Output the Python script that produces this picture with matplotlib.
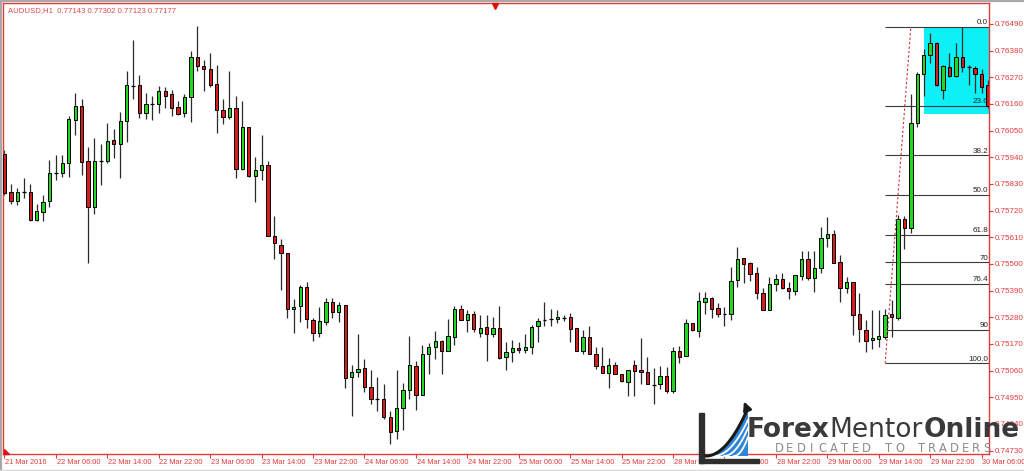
import matplotlib.pyplot as plt
import numpy as np
from matplotlib.patches import Rectangle, Polygon
from matplotlib.transforms import blended_transform_factory

# AUDUSD H1 candles (21 Mar - 30 Mar 2016)
opens = [0.75954, 0.75798, 0.75759, 0.75797, 0.75796, 0.75682, 0.75715, 0.75759, 0.75877, 0.75877,
         0.75915, 0.76093, 0.76152, 0.75924, 0.75734, 0.75926, 0.75925, 0.76010, 0.75995, 0.76091,
         0.76235, 0.76237, 0.76124, 0.76159, 0.76160, 0.76214, 0.76200, 0.76149, 0.76124, 0.76188,
         0.76353, 0.76317, 0.76303, 0.76241, 0.76135, 0.76108, 0.76145, 0.75891, 0.76064, 0.75864,
         0.75887, 0.75908, 0.75617, 0.75580, 0.75547, 0.75313, 0.75326, 0.75404, 0.75269, 0.75214,
         0.75261, 0.75345, 0.75301, 0.75330, 0.75033, 0.75055, 0.75071, 0.74993, 0.74942, 0.74942,
         0.74870, 0.74810, 0.74905, 0.74979, 0.75079, 0.74961, 0.75130, 0.75158, 0.75182, 0.75140,
         0.75200, 0.75314, 0.75270, 0.75295, 0.75217, 0.75239, 0.75210, 0.75236, 0.75118, 0.75136,
         0.75155, 0.75144, 0.75156, 0.75245, 0.75268, 0.75273, 0.75272, 0.75279, 0.75280, 0.75236,
         0.75141, 0.75199, 0.75129, 0.75080, 0.75049, 0.75082, 0.75045, 0.75014, 0.75082, 0.75063,
         0.75056, 0.75002, 0.75004, 0.75038, 0.74975, 0.75142, 0.75121, 0.75255, 0.75224, 0.75343,
         0.75360, 0.75319, 0.75294, 0.75294, 0.75433, 0.75526, 0.75503, 0.75462, 0.75380, 0.75309,
         0.75416, 0.75439, 0.75400, 0.75389, 0.75451, 0.75519, 0.75444, 0.75482, 0.75606, 0.75625,
         0.75507, 0.75402, 0.75426, 0.75293, 0.75229, 0.75188, 0.75191, 0.75199, 0.75293, 0.75276,
         0.75686, 0.75647, 0.76080, 0.76284, 0.76362, 0.76413, 0.76218, 0.76313, 0.76276, 0.76353,
         0.76314, 0.76310, 0.76284, 0.76238]
highs = [0.75970, 0.75830, 0.75812, 0.75856, 0.75829, 0.75748, 0.75785, 0.75929, 0.75948, 0.75948,
         0.76112, 0.76204, 0.76181, 0.75981, 0.76021, 0.75994, 0.76080, 0.76057, 0.76126, 0.76297,
         0.76424, 0.76281, 0.76204, 0.76192, 0.76235, 0.76229, 0.76218, 0.76171, 0.76201, 0.76380,
         0.76483, 0.76340, 0.76369, 0.76321, 0.76181, 0.76296, 0.76194, 0.76172, 0.76064, 0.75940,
         0.76032, 0.75925, 0.75698, 0.75602, 0.75547, 0.75356, 0.75413, 0.75427, 0.75276, 0.75321,
         0.75359, 0.75361, 0.75345, 0.75330, 0.75083, 0.75211, 0.75107, 0.75063, 0.75035, 0.75006,
         0.74894, 0.75063, 0.75008, 0.75203, 0.75099, 0.75166, 0.75175, 0.75222, 0.75187, 0.75272,
         0.75326, 0.75332, 0.75309, 0.75306, 0.75290, 0.75290, 0.75281, 0.75328, 0.75180, 0.75187,
         0.75178, 0.75211, 0.75247, 0.75279, 0.75343, 0.75313, 0.75309, 0.75288, 0.75297, 0.75236,
         0.75228, 0.75244, 0.75159, 0.75156, 0.75112, 0.75095, 0.75045, 0.75063, 0.75104, 0.75196,
         0.75116, 0.75071, 0.75080, 0.75076, 0.75159, 0.75163, 0.75274, 0.75258, 0.75386, 0.75386,
         0.75364, 0.75338, 0.75321, 0.75488, 0.75570, 0.75526, 0.75509, 0.75486, 0.75401, 0.75445,
         0.75460, 0.75463, 0.75427, 0.75456, 0.75552, 0.75552, 0.75552, 0.75651, 0.75695, 0.75640,
         0.75536, 0.75445, 0.75426, 0.75382, 0.75269, 0.75310, 0.75310, 0.75313, 0.75352, 0.75702,
         0.75699, 0.76200, 0.76293, 0.76386, 0.76452, 0.76417, 0.76321, 0.76369, 0.76413, 0.76479,
         0.76321, 0.76317, 0.76303, 0.76259]
lows = [0.75785, 0.75748, 0.75743, 0.75772, 0.75679, 0.75677, 0.75679, 0.75734, 0.75845, 0.75858,
        0.75860, 0.76031, 0.75867, 0.75503, 0.75705, 0.75826, 0.75915, 0.75936, 0.75854, 0.76004,
        0.76179, 0.76104, 0.76098, 0.76094, 0.76122, 0.76142, 0.76112, 0.76113, 0.76108, 0.76087,
        0.76296, 0.76214, 0.76231, 0.76039, 0.76077, 0.76097, 0.75856, 0.75888, 0.75860, 0.75757,
        0.75847, 0.75614, 0.75519, 0.75393, 0.75276, 0.75217, 0.75260, 0.75236, 0.75184, 0.75200,
        0.75248, 0.75276, 0.75260, 0.74990, 0.74874, 0.75035, 0.74973, 0.74921, 0.74894, 0.74862,
        0.74756, 0.74778, 0.74815, 0.74943, 0.74899, 0.74961, 0.75045, 0.75107, 0.75047, 0.75140,
        0.75166, 0.75270, 0.75221, 0.75221, 0.75198, 0.75101, 0.75200, 0.75107, 0.75062, 0.75096,
        0.75134, 0.75134, 0.75128, 0.75180, 0.75244, 0.75244, 0.75255, 0.75266, 0.75177, 0.75139,
        0.75129, 0.75128, 0.75068, 0.75049, 0.74989, 0.75045, 0.75013, 0.74957, 0.74957, 0.75005,
        0.75004, 0.74921, 0.74983, 0.74967, 0.74967, 0.75090, 0.75121, 0.75225, 0.75200, 0.75293,
        0.75276, 0.75283, 0.75245, 0.75269, 0.75406, 0.75420, 0.75430, 0.75356, 0.75309, 0.75309,
        0.75389, 0.75397, 0.75356, 0.75372, 0.75434, 0.75434, 0.75386, 0.75464, 0.75571, 0.75503,
        0.75342, 0.75379, 0.75208, 0.75180, 0.75138, 0.75148, 0.75159, 0.75189, 0.75200, 0.75269,
        0.75561, 0.75627, 0.76066, 0.76193, 0.76328, 0.76234, 0.76179, 0.76273, 0.76273, 0.76293,
        0.76238, 0.76207, 0.76207, 0.76142]
closes = [0.75793, 0.75761, 0.75796, 0.75797, 0.75682, 0.75717, 0.75757, 0.75874, 0.75877, 0.75915,
          0.76097, 0.76152, 0.75922, 0.75734, 0.75926, 0.75926, 0.76006, 0.75995, 0.76090, 0.76237,
          0.76235, 0.76124, 0.76159, 0.76159, 0.76212, 0.76194, 0.76145, 0.76120, 0.76188, 0.76353,
          0.76318, 0.76303, 0.76240, 0.76134, 0.76108, 0.76145, 0.75891, 0.76064, 0.75864, 0.75887,
          0.75908, 0.75616, 0.75585, 0.75547, 0.75313, 0.75324, 0.75404, 0.75272, 0.75214, 0.75265,
          0.75345, 0.75301, 0.75330, 0.75031, 0.75056, 0.75066, 0.74991, 0.74942, 0.74942, 0.74869,
          0.74806, 0.74907, 0.74979, 0.75083, 0.74961, 0.75129, 0.75159, 0.75182, 0.75141, 0.75203,
          0.75314, 0.75270, 0.75295, 0.75232, 0.75236, 0.75210, 0.75236, 0.75114, 0.75136, 0.75152,
          0.75145, 0.75156, 0.75239, 0.75265, 0.75268, 0.75273, 0.75280, 0.75279, 0.75233, 0.75141,
          0.75199, 0.75128, 0.75080, 0.75052, 0.75082, 0.75045, 0.75019, 0.75062, 0.75059, 0.75056,
          0.75004, 0.75002, 0.75038, 0.74977, 0.75141, 0.75118, 0.75255, 0.75228, 0.75347, 0.75360,
          0.75313, 0.75295, 0.75294, 0.75430, 0.75522, 0.75501, 0.75459, 0.75379, 0.75309, 0.75416,
          0.75438, 0.75400, 0.75389, 0.75453, 0.75519, 0.75444, 0.75482, 0.75606, 0.75625, 0.75505,
          0.75402, 0.75426, 0.75290, 0.75231, 0.75184, 0.75195, 0.75202, 0.75291, 0.75280, 0.75686,
          0.75647, 0.76080, 0.76284, 0.76362, 0.76410, 0.76238, 0.76318, 0.76276, 0.76353, 0.76314,
          0.76314, 0.76284, 0.76231, 0.76152]

price_ticks = [0.76490, 0.76380, 0.76270, 0.76160, 0.76050, 0.75940, 0.75830, 0.75720, 0.75610,
               0.75500, 0.75390, 0.75280, 0.75170, 0.75060, 0.74950, 0.74840, 0.74730]
time_labels = ['21 Mar 2016', '22 Mar 06:00', '22 Mar 14:00', '22 Mar 22:00', '23 Mar 06:00',
               '23 Mar 14:00', '23 Mar 22:00', '24 Mar 06:00', '24 Mar 14:00', '24 Mar 22:00',
               '25 Mar 06:00', '25 Mar 14:00', '25 Mar 22:00', '28 Mar 06:00', '28 Mar 14:00',
               '28 Mar 22:00', '29 Mar 06:00', '29 Mar 14:00', '29 Mar 22:00', '30 Mar 06:00']

# fibonacci retracement drawn on the last leg
fib_levels = [0.0, 23.6, 38.2, 50.0, 61.8, 70, 76.4, 90, 100.0]
fib_names = ['0.0', '23.6', '38.2', '50.0', '61.8', '70', '76.4', '90', '100.0']
fib_high = 0.76479
fib_low = 0.75090
fib_start = 137
fib_end = 141
box_start = 143
box_bottom = 0.76118

W, H = 1024, 471
RED = '#e23a3a'
BULL = '#22d622'
BEAR = '#d81c1c'

fig = plt.figure(figsize=(W / 100, H / 100), dpi=100)
fig.patch.set_facecolor('white')
ax = fig.add_axes([3 / W, (H - 454.3) / H, (989.3 - 3) / W, (454.3 - 3.3) / H])
ax.set_xlim(-0.23, 153.2)
ax.set_ylim(0.74715, 0.76575)

n = len(opens)
idx = np.arange(n)
o = np.array(opens)
c = np.array(closes)

# cyan box behind the last candles
ax.add_patch(Rectangle((box_start, box_bottom), 200, fib_high - box_bottom,
                       facecolor='#0cf0f6', edgecolor='none', zorder=0.5))

# fib levels
for lev, name in zip(fib_levels, fib_names):
    p = fib_high - lev / 100 * (fib_high - fib_low)
    ax.hlines(p, fib_start, 160, color='#3a3a3a', lw=0.8, zorder=1)
    ax.text(153.0, p + 0.00003, name, ha='right', va='bottom', fontsize=5.8,
            family='Liberation Sans', color='#222222', zorder=5)
ax.plot([fib_start, fib_end], [fib_low, fib_high], color='#d03030', lw=0.8,
        ls=(0, (2, 2)), zorder=4)

# candles
ax.vlines(idx, lows, highs, color='#2a2a2a', lw=0.9, zorder=2)
body_lo = np.minimum(o, c)
body_h = np.abs(c - o)
colors = [BULL if cc > oo else BEAR for oo, cc in zip(o, c)]
solid = body_h > 0
ax.bar(idx[solid], body_h[solid], bottom=body_lo[solid], width=0.52,
       color=np.array(colors)[solid], edgecolor='black', linewidth=0.7, zorder=3)
doji = ~solid
ax.hlines(o[doji], idx[doji] - 0.3, idx[doji] + 0.3, color='black', lw=0.9, zorder=3)

# axes styling
for s in ax.spines.values():
    s.set_color(RED)
    s.set_linewidth(1)
ax.yaxis.tick_right()
ax.set_yticks(price_ticks)
ax.set_yticklabels(['%.5f' % p for p in price_ticks])
ax.tick_params(axis='y', colors=RED, labelcolor=RED, length=3, width=0.8, pad=1,
               labelsize=5.8)
for t in ax.get_yticklabels():
    t.set_family('Liberation Sans')

ax.set_xticks(np.arange(0, n, 8))
ax.set_xticklabels([])
ax.tick_params(axis='x', colors=RED, length=3, width=0.8)
trans = blended_transform_factory(ax.transData, ax.transAxes)
for i, lab in zip(np.arange(0, n, 8), time_labels):
    ax.text(i + 0.1, -0.018, lab, transform=trans, ha='left', va='center', fontsize=5.35,
            family='Liberation Sans', color=RED, clip_on=False)

# header
fig.text(8 / W, 1 - 10.5 / H, 'AUDUSD,H1  0.77143 0.77302 0.77123 0.77177', fontsize=5.6,
         family='Liberation Sans', color='#e04848', va='center', ha='left')

# window frame and markers
fig.add_artist(plt.Line2D([0, 1], [1 - 0.8 / H, 1 - 0.8 / H], color='#a8a8a8', lw=1.6))
fig.add_artist(plt.Line2D([0.8 / W, 0.8 / W], [0, 1], color='#a8a8a8', lw=1.6))
fig.add_artist(plt.Line2D([0, 1], [1.5 / H, 1.5 / H], color='#d8d8d8', lw=1))
fig.add_artist(plt.Line2D([495 / W], [1 - 6 / H], marker='v', color='#e01010', ms=4, lw=0))
fig.add_artist(Polygon([(3.5 / W, 1 - 449 / H), (3.5 / W, 1 - 454 / H), (9 / W, 1 - 454 / H)],
                       closed=True, color='#e01010'))

# logo
def fp(x, y):
    return (x / W, 1 - y / H)

fig.add_artist(Rectangle(fp(699, 463), 5 / W, 50 / H, color='#2e2e2e', zorder=10))
fig.add_artist(Rectangle(fp(699, 463), 60 / W, 4 / H, color='#2e2e2e', zorder=10))
t = np.linspace(0, 1, 40)
cx = 706 + 42 * t
cy = 456 - 48 * t ** 2
swoosh = [fp(x, y) for x, y in zip(cx, cy)] + [fp(748, 456)]
fig.add_artist(Polygon(swoosh, closed=True, facecolor='#2f86d6', edgecolor='none', zorder=10))
for a, b in [(714, 420), (724, 428), (734, 437)]:
    sx = a + (748 - a) * t
    sy = 456 - (456 - b) * t ** 2
    fig.add_artist(plt.Line2D(sx / W, 1 - sy / H, color='white', lw=1.3, zorder=11))
fig.add_artist(plt.Line2D((706 + 42 * t) / W, 1 - (456 - 48 * t ** 2) / H,
                          color='#1a1a1a', lw=2.2, zorder=12))
ax.annotate('', xy=(743, H - 399), xycoords='figure pixels', xytext=(746.5, H - 408),
            textcoords='figure pixels',
            arrowprops=dict(arrowstyle='-|>', color='#1a1a1a', lw=2, mutation_scale=12),
            zorder=12)

t1 = fig.text(747 / W, 1 - 436.7 / H, 'Forex', fontsize=19, fontweight='bold',
              color='#3a3a3a', va='baseline', ha='left', zorder=12)
t2 = ax.annotate('Mentor', xy=(1, H - 436.7), xycoords=(t1, 'figure pixels'), fontsize=19,
                 color='#3a3a3a', va='baseline', ha='left', zorder=12, annotation_clip=False)
t3 = ax.annotate('Online', xy=(1, H - 436.7), xycoords=(t2, 'figure pixels'), fontsize=19,
                 fontweight='bold', color='#3a3a3a', va='baseline', ha='left', zorder=12,
                 annotation_clip=False)
tag = 'DEDICATED TO TRADERS'
for k, ch in enumerate(tag):
    fig.text((779 + k * 10.95) / W, 1 - 451.7 / H, ch, fontsize=8.3, color='#8c8c8c',
             ha='center', va='baseline', zorder=12)

fig.savefig('out.png', dpi=100, facecolor='white')
